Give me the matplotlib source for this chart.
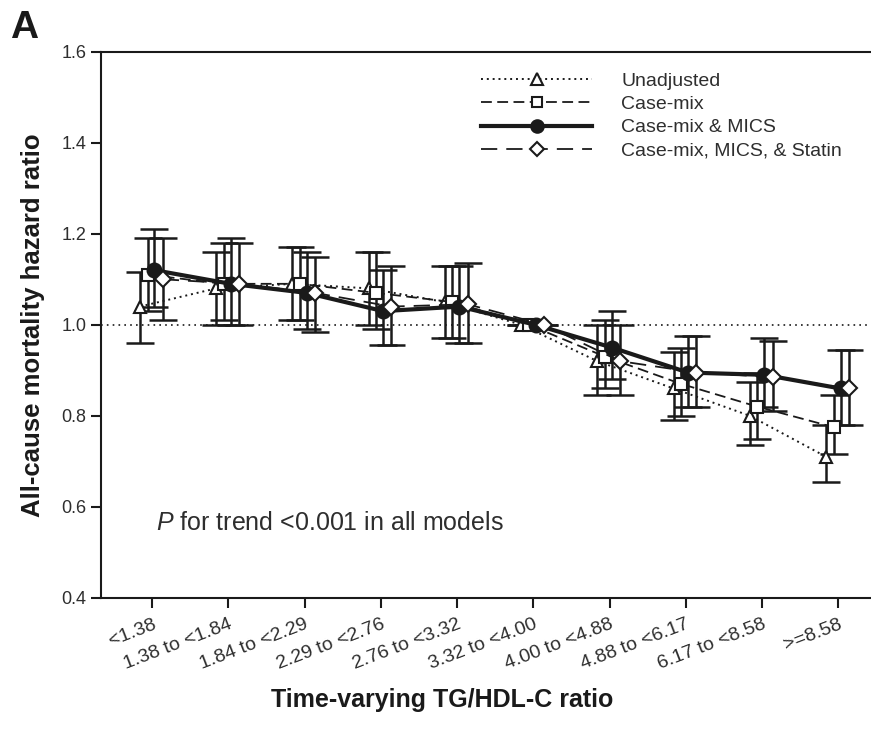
import numpy as np
import matplotlib
matplotlib.use("Agg")
import matplotlib.pyplot as plt
from matplotlib.lines import Line2D

plt.rcParams['font.family'] = ['Liberation Sans', 'DejaVu Sans']
plt.rcParams['mathtext.fontset'] = 'custom'
plt.rcParams['mathtext.it'] = 'Liberation Sans:italic'
plt.rcParams['mathtext.rm'] = 'Liberation Sans'

categories = ['<1.38', '1.38 to <1.84', '1.84 to <2.29', '2.29 to <2.76', '2.76 to <3.32',
              '3.32 to <4.00', '4.00 to <4.88', '4.88 to <6.17', '6.17 to <8.58', '>=8.58']

series_names = ['Unadjusted', 'Case-mix', 'Case-mix & MICS', 'Case-mix, MICS, & Statin']

# hazard ratios, lower and upper 95% CI (reference group has no CI)
unadj = [1.04, 1.08, 1.09, 1.08, 1.05, 1.00, 0.92, 0.86, 0.80, 0.71]
unadj_lo = [0.96, 1.00, 1.01, 1.00, 0.97, 1.00, 0.845, 0.79, 0.735, 0.655]
unadj_hi = [1.115, 1.16, 1.17, 1.16, 1.13, 1.00, 1.00, 0.94, 0.875, 0.78]

casemix = [1.11, 1.09, 1.09, 1.07, 1.05, 1.00, 0.93, 0.87, 0.82, 0.775]
casemix_lo = [1.03, 1.01, 1.01, 0.99, 0.97, 1.00, 0.86, 0.80, 0.75, 0.715]
casemix_hi = [1.19, 1.18, 1.17, 1.16, 1.13, 1.00, 1.01, 0.95, 0.895, 0.845]

mics = [1.12, 1.09, 1.07, 1.03, 1.04, 1.00, 0.95, 0.895, 0.89, 0.86]
mics_lo = [1.04, 1.00, 0.99, 0.955, 0.96, 1.00, 0.88, 0.82, 0.82, 0.78]
mics_hi = [1.21, 1.19, 1.16, 1.12, 1.13, 1.00, 1.03, 0.975, 0.97, 0.945]

statin = [1.10, 1.09, 1.07, 1.04, 1.045, 1.00, 0.92, 0.895, 0.885, 0.86]
statin_lo = [1.01, 1.00, 0.985, 0.955, 0.96, 1.00, 0.845, 0.82, 0.81, 0.78]
statin_hi = [1.19, 1.18, 1.15, 1.13, 1.135, 1.00, 1.00, 0.975, 0.965, 0.945]

x = np.arange(len(categories))

fig = plt.figure(figsize=(8.71, 7.29), dpi=100)
ax = fig.add_axes([0.116, 0.180, 0.905, 0.749])

ink = '#1a1a1a'
grey = '#2e2e2e'

ax.axhline(1.0, color=ink, lw=1.2, ls=(0, (1, 2.5)), zorder=1)

styles = [
    dict(ls=(0, (1, 2)), lw=1.4, marker='^', mfc='white', ms=9, off=-0.16),
    dict(ls=(0, (6, 3)), lw=1.3, marker='s', mfc='white', ms=8, off=-0.06),
    dict(ls='-', lw=3.0, marker='o', mfc=ink, ms=10, off=0.03),
    dict(ls=(0, (9, 5)), lw=1.3, marker='D', mfc='white', ms=8, off=0.14),
]
data = [(unadj, unadj_lo, unadj_hi), (casemix, casemix_lo, casemix_hi),
        (mics, mics_lo, mics_hi), (statin, statin_lo, statin_hi)]

handles = []
for (y, lo, hi), st, name in zip(data, styles, series_names):
    y = np.array(y)
    xs = x + st['off']
    err = [y - np.array(lo), np.array(hi) - y]
    ax.errorbar(xs, y, yerr=err, fmt='none', ecolor=ink, elinewidth=1.8,
                capsize=10, capthick=1.8, zorder=2)
    ax.plot(xs, y, color=ink, ls=st['ls'], lw=st['lw'], marker=st['marker'],
            mfc=st['mfc'], mec=ink, mew=1.5, ms=st['ms'], zorder=3)
    handles.append(Line2D([], [], color=ink, ls=st['ls'], lw=st['lw'], marker=st['marker'],
                          mfc=st['mfc'], mec=ink, mew=1.5, ms=st['ms'] - 1))

ax.set_xlim(-0.67, 9.67)
ax.set_ylim(0.4, 1.6)
yt = np.arange(0.4, 1.61, 0.2)
ax.set_yticks(yt)
ax.set_yticklabels([f'{v:.1f}' for v in yt], fontsize=13, color=grey)
ax.set_xticks(x)
ax.set_xticklabels(categories, rotation=21, ha='right', rotation_mode='anchor',
                   fontsize=14, color=grey)
ax.tick_params(axis='both', direction='out', length=7, width=1.5, color=ink)
ax.tick_params(axis='x', pad=6)
for s in ax.spines.values():
    s.set_linewidth(1.5)
    s.set_color(ink)

ax.set_ylabel('All-cause mortality hazard ratio', fontsize=18.5, fontweight='bold',
              color=ink, labelpad=12)
fig.text(0.508, 0.04, 'Time-varying TG/HDL-C ratio', fontsize=18, fontweight='bold',
         color=ink, ha='center', va='center')
fig.text(0.012, 0.962, 'A', fontsize=28, fontweight='bold', color=ink, ha='left', va='center')

ax.text(0.045, 0.565, r'$\it{P}$ for trend <0.001 in all models', fontsize=18, color=grey,
        va='center', ha='left')

ax.legend(handles=handles, labels=series_names, loc='upper left',
          bbox_to_anchor=(0.46, 0.995), frameon=False, fontsize=14, handlelength=5.7,
          handletextpad=1.5, labelspacing=0.3, labelcolor=grey)

fig.savefig('out.png', dpi=100)
